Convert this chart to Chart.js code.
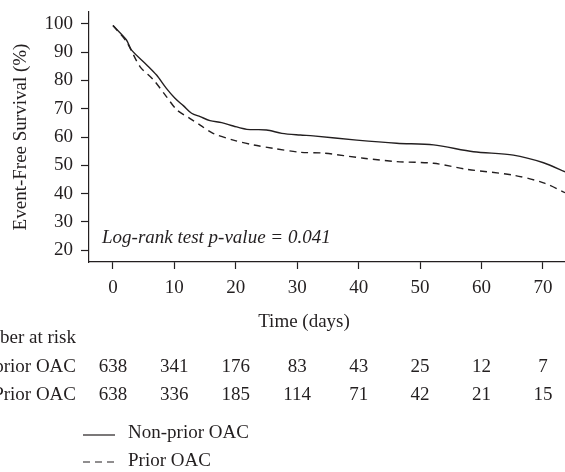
<!DOCTYPE html>
<html lang="en">
<head>
    <meta charset="UTF-8">
    <title>Event-Free Survival</title>
    <script src="https://cdn.jsdelivr.net/npm/chart.js"></script>
    <style>
      body { margin: 0; background: #fff; }
      #wrap { width: 565px; height: 472px; }
    </style>
</head>
<body>
  <div id="wrap">
    <canvas id="kmChart" width="565" height="472"></canvas>
  </div>
  <script>
    // curve points (days, % event-free)
    var nonPriorDays = [0, 2.2, 3.0, 5.5, 7.1, 8.7, 10.1, 11.5, 12.8, 14.2, 15.8, 17.7, 19.6, 21.8, 25.0, 27.5, 30.5, 32.6, 39.7, 46.2, 52.2, 58.7, 65.2, 70.1, 73.6];
    var nonPriorSurv = [99.4, 94.3, 90.8, 85.5, 81.9, 77.2, 73.7, 71.0, 68.4, 67.2, 65.8, 65.1, 63.9, 62.7, 62.5, 61.3, 60.7, 60.4, 58.9, 57.8, 57.2, 54.8, 53.6, 50.9, 47.7];
    var priorDays = [0, 2.2, 4.4, 6.6, 8.7, 10.4, 12.5, 14.2, 16.3, 19.6, 22.9, 26.1, 30.5, 34.3, 40.8, 46.2, 52.2, 57.6, 65.2, 70.1, 73.6];
    var priorSurv = [99.4, 93.7, 84.9, 80.2, 74.3, 69.6, 66.6, 64.2, 61.3, 58.9, 57.2, 56.0, 54.6, 54.3, 52.5, 51.3, 50.7, 48.6, 46.5, 43.8, 40.3];

    var xTicks = [0, 10, 20, 30, 40, 50, 60, 70];
    var yTicks = [20, 30, 40, 50, 60, 70, 80, 90, 100];

    var riskLabels = ["Non-prior OAC", "Prior OAC"];
    var riskNonPrior = [638, 341, 176, 83, 43, 25, 12, 7];
    var riskPrior = [638, 336, 185, 114, 71, 42, 21, 15];

    var pText = "Log-rank test p-value = 0.041";
    var ink = "#231f20";
    var serif = "'Liberation Serif', 'DejaVu Serif', serif";

    function toPoints(xs, ys) {
      var pts = [];
      for (var i = 0; i < xs.length; i++) pts.push({ x: xs[i], y: ys[i] });
      return pts;
    }

    // text below the axes: x title, number at risk table, legend
    var extras = {
      id: "extras",
      afterDraw: function (chart) {
        var c = chart.ctx;
        var xs = chart.scales.x;
        var ys = chart.scales.y;
        c.save();
        c.fillStyle = ink;
        c.textBaseline = "middle";

        c.font = "italic 19px " + serif;
        c.textAlign = "left";
        c.fillText(pText, 102, ys.getPixelForValue(24.3));

        c.font = "19px " + serif;
        c.textAlign = "center";
        c.fillText("Time (days)", 304, 322);

        c.textAlign = "right";
        c.fillText("Number at risk", 76, 338);
        c.fillText(riskLabels[0], 76, 367);
        c.fillText(riskLabels[1], 76, 395);

        c.textAlign = "center";
        for (var i = 0; i < xTicks.length; i++) {
          var px = xs.getPixelForValue(xTicks[i]);
          c.fillText(String(riskNonPrior[i]), px, 367);
          c.fillText(String(riskPrior[i]), px, 395);
        }

        // legend
        c.strokeStyle = ink;
        c.lineWidth = 1.2;
        c.beginPath();
        c.moveTo(83, 435);
        c.lineTo(115, 435);
        c.stroke();
        c.setLineDash([7, 5]);
        c.beginPath();
        c.moveTo(83, 462);
        c.lineTo(117, 462);
        c.stroke();
        c.setLineDash([]);
        c.textAlign = "left";
        c.fillText(riskLabels[0], 128, 433);
        c.fillText(riskLabels[1], 128, 461);
        c.restore();
      }
    };

    var ctx = document.getElementById("kmChart").getContext("2d");
    var chart = new Chart(ctx, {
      type: "line",
      data: {
        datasets: [{
          label: "Non-prior OAC",
          data: toPoints(nonPriorDays, nonPriorSurv),
          borderColor: ink,
          borderWidth: 1.4,
          pointRadius: 0,
          tension: 0.3,
          fill: false
        }, {
          label: "Prior OAC",
          data: toPoints(priorDays, priorSurv),
          borderColor: ink,
          borderWidth: 1.4,
          borderDash: [7, 5],
          pointRadius: 0,
          tension: 0.3,
          fill: false
        }]
      },
      options: {
        responsive: false,
        animation: false,
        layout: { padding: { left: 0, right: 0, top: 12, bottom: 130 } },
        plugins: { legend: { display: false }, tooltip: { enabled: false } },
        scales: {
          x: {
            type: "linear",
            min: -3.9,
            max: 73.6,
            afterBuildTicks: function (s) { s.ticks = xTicks.map(function (v) { return { value: v }; }); },
            afterFit: function (s) { s.height = 80; s.paddingLeft = 0; s.paddingRight = 0; },
            grid: { drawOnChartArea: false, tickLength: 7, tickColor: ink, tickWidth: 1.2 },
            border: { color: ink, width: 1.2 },
            ticks: { color: ink, font: { family: serif, size: 19 }, padding: 8, maxRotation: 0 }
          },
          y: {
            min: 15.8,
            max: 104.2,
            afterBuildTicks: function (s) { s.ticks = yTicks.map(function (v) { return { value: v }; }); },
            afterFit: function (s) { s.width = 89; s.paddingTop = 0; s.paddingBottom = 0; },
            grid: { drawOnChartArea: false, tickLength: 8, tickColor: ink, tickWidth: 1.2 },
            border: { color: ink, width: 1.2 },
            ticks: { color: ink, font: { family: serif, size: 19 }, padding: 8 },
            title: { display: true, text: "Event-Free Survival (%)", color: ink, font: { family: serif, size: 19 }, padding: { top: 10, bottom: 0 } }
          }
        }
      },
      plugins: [extras]
    });
  </script>
</body>
</html>
